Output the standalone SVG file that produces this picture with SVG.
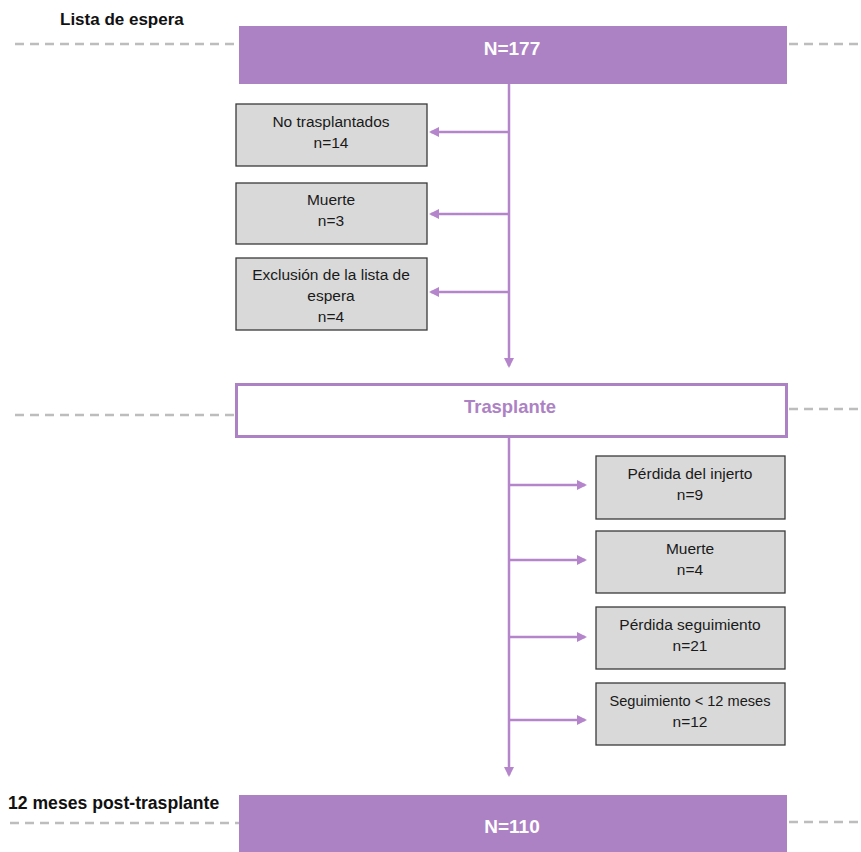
<svg xmlns="http://www.w3.org/2000/svg" width="861" height="852" viewBox="0 0 861 852">
<style>
.bar{fill:#ad82c4}
.grey{fill:#d9d9d9;stroke:#3a3a3a;stroke-width:1.3}
.dash{stroke:#bdbdbd;stroke-width:2.5;stroke-dasharray:9 6;fill:none}
.ln{stroke:#b585cc;stroke-width:2.5;fill:none}
.t{font-family:"Liberation Sans",Arial,sans-serif;font-size:15.5px;fill:#1a1a1a;text-anchor:middle}
.h{font-family:"Liberation Sans",Arial,sans-serif;font-size:17px;font-weight:bold;fill:#111}
.w{font-family:"Liberation Sans",Arial,sans-serif;font-size:19px;font-weight:bold;fill:#fff;text-anchor:middle}
</style>
<defs>
<marker id="ah" markerWidth="10" markerHeight="10" refX="8" refY="5" orient="auto" markerUnits="userSpaceOnUse">
<path d="M0,0 L10,5 L0,10 Z" fill="#b585cc"/>
</marker>
</defs>
<g id="guides">
<line class="dash" x1="15" y1="44" x2="239" y2="44"/>
<line class="dash" x1="789" y1="44" x2="861" y2="44"/>
<line class="dash" x1="15" y1="415" x2="235" y2="415"/>
<line class="dash" x1="789" y1="409" x2="861" y2="409"/>
<line class="dash" x1="10" y1="823" x2="239" y2="823"/>
<line class="dash" x1="789" y1="822" x2="861" y2="822"/>
</g>
<text class="h" x="60" y="25">Lista de espera</text>
<text class="h" x="8" y="809" style="font-size:17.6px">12 meses post-trasplante</text>
<g id="connectors">
<line class="ln" x1="509" y1="84" x2="509" y2="366" marker-end="url(#ah)"/>
<line class="ln" x1="509" y1="132" x2="431" y2="132" marker-end="url(#ah)"/>
<line class="ln" x1="509" y1="214" x2="431" y2="214" marker-end="url(#ah)"/>
<line class="ln" x1="509" y1="292" x2="431" y2="292" marker-end="url(#ah)"/>
<line class="ln" x1="509" y1="437" x2="509" y2="775" marker-end="url(#ah)"/>
<line class="ln" x1="509" y1="485" x2="585" y2="485" marker-end="url(#ah)"/>
<line class="ln" x1="509" y1="560" x2="585" y2="560" marker-end="url(#ah)"/>
<line class="ln" x1="509" y1="637" x2="585" y2="637" marker-end="url(#ah)"/>
<line class="ln" x1="509" y1="720" x2="585" y2="720" marker-end="url(#ah)"/>
</g>
<g id="n177">
<rect class="bar" x="239" y="26" width="548" height="58"/>
<text class="w" x="512" y="55">N=177</text>
</g>
<g id="no-trasplantados">
<rect class="grey" x="236" y="104" width="191" height="62"/>
<text class="t" x="331" y="127">No trasplantados</text>
<text class="t" x="331" y="148">n=14</text>
</g>
<g id="muerte1">
<rect class="grey" x="236" y="183" width="191" height="61"/>
<text class="t" x="331" y="205">Muerte</text>
<text class="t" x="331" y="226">n=3</text>
</g>
<g id="exclusion">
<rect class="grey" x="236" y="258" width="191" height="72"/>
<text class="t" x="331" y="280">Exclusión de la lista de</text>
<text class="t" x="331" y="301">espera</text>
<text class="t" x="331" y="322">n=4</text>
</g>
<g id="trasplante">
<rect x="236.5" y="384.5" width="550" height="52" fill="#fff" stroke="#ad82c4" stroke-width="3"/>
<text x="510" y="413" font-family="Liberation Sans,Arial,sans-serif" font-size="18.4" font-weight="bold" fill="#ad82c4" text-anchor="middle">Trasplante</text>
</g>
<g id="perdida-injerto">
<rect class="grey" x="596" y="456" width="189" height="63"/>
<text class="t" x="690" y="479">Pérdida del injerto</text>
<text class="t" x="690" y="500">n=9</text>
</g>
<g id="muerte2">
<rect class="grey" x="596" y="531" width="189" height="62"/>
<text class="t" x="690" y="554">Muerte</text>
<text class="t" x="690" y="575">n=4</text>
</g>
<g id="perdida-seguimiento">
<rect class="grey" x="596" y="607" width="189" height="62"/>
<text class="t" x="690" y="630">Pérdida seguimiento</text>
<text class="t" x="690" y="651">n=21</text>
</g>
<g id="seguimiento">
<rect class="grey" x="596" y="683" width="189" height="62"/>
<text class="t" x="690" y="706" style="font-size:14.6px">Seguimiento &lt; 12 meses</text>
<text class="t" x="690" y="727">n=12</text>
</g>
<g id="n110">
<rect class="bar" x="239" y="795" width="548" height="57"/>
<text class="w" x="512" y="833">N=110</text>
</g>
</svg>
